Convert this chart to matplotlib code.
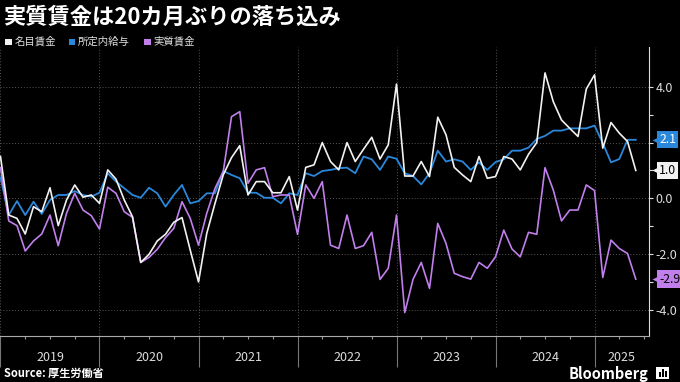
import numpy as np
import matplotlib
matplotlib.use("Agg")
import matplotlib.pyplot as plt
import matplotlib.transforms as mtransforms
from matplotlib.patches import Rectangle

plt.rcParams['font.family'] = ['Noto Sans CJK JP', 'DejaVu Sans']

# monthly y/y % change, Dec 2018 .. May 2025
nominal = [1.5, -0.6, -0.72, -1.28, -0.3, -0.48, 0.38, -0.98, -0.06, 0.48, 0.04, 0.12,
           -0.18, 1.02, 0.69, -0.06, -0.66, -2.3, -2.01, -1.53, -1.29, -0.86, -0.69, -1.86,
           -3.0, -1.26, -0.18, 0.84, 1.46, 1.89, 0.12, 0.6, 0.6, 0.2, 0.2, 0.78,
           -0.42, 1.11, 1.2, 2.0, 1.32, 1.02, 2.0, 1.32, 1.76, 2.19, 1.41, 1.92,
           4.1, 0.8, 0.8, 1.32, 0.78, 2.91, 2.28, 1.11, 0.84, 0.6, 1.5, 0.72,
           0.78, 1.5, 1.41, 1.02, 1.58, 2.0, 4.5, 3.47, 2.81, 2.51, 2.22, 3.92,
           4.43, 1.8, 2.72, 2.34, 2.04, 1.0]
scheduled = [0.75, -0.6, -0.1, -0.6, -0.12, -0.56, -0.06, 0.12, 0.12, 0.26, 0.12, 0.06,
             0.2, 0.9, 0.6, 0.36, 0.12, 0.02, 0.38, 0.18, -0.3, 0.12, 0.48, -0.18,
             -0.1, 0.18, 0.18, 0.98, 0.84, 0.72, 0.2, 0.2, 0.02, 0.02, -0.18, 0.18,
             0.12, 0.9, 0.8, 0.98, 1.02, 1.08, 1.1, 0.9, 1.5, 1.4, 1.02, 1.5,
             1.42, 0.9, 0.8, 0.5, 0.9, 1.71, 1.32, 1.4, 1.32, 1.02, 1.29, 1.02,
             1.3, 1.4, 1.71, 1.71, 1.82, 2.13, 2.24, 2.43, 2.43, 2.51, 2.51, 2.51,
             2.61, 1.98, 1.29, 1.41, 2.1, 2.1]
real = [1.1, -0.81, -0.98, -1.89, -1.53, -1.28, -0.6, -1.7, -0.54, 0.18, -0.42, -0.62,
        -1.1, 0.4, 0.18, -0.48, -0.68, -2.3, -2.12, -1.83, -1.41, -1.08, -0.12, -0.72,
        -1.68, -0.54, 0.36, 0.96, 2.93, 3.11, 0.54, 1.02, 1.1, 0.06, 0.12, 0.12,
        -1.29, 0.48, 0.0, 0.6, -1.68, -1.8, -0.6, -1.8, -1.7, -1.22, -2.91, -2.51,
        -0.6, -4.1, -2.91, -2.3, -3.23, -0.9, -1.62, -2.69, -2.81, -2.9, -2.3, -2.51,
        -2.1, -1.14, -1.82, -2.1, -1.22, -1.29, 1.1, 0.3, -0.81, -0.42, -0.42, 0.48,
        0.28, -2.84, -1.5, -1.8, -1.98, -2.9]

years = ['2019', '2020', '2021', '2022', '2023', '2024', '2025']
series_names = ['名目賃金', '所定内給与', '実質賃金']
last_labels = ['1.0', '2.1', '-2.9']
# the 2.0 label sits under the 2.1 tag in the original
ytick_labels = ['-4.0', '-2.0', '0.0', '', '4.0']

c_white = '#f2f2f2'
c_blue = '#2a88dc'
c_purple = '#c17fec'
colors = [c_white, c_blue, c_purple]

months = np.arange(len(nominal))
x_right = 78.57

fig = plt.figure(figsize=(6.8, 3.82), dpi=100, facecolor='black')
ax = fig.add_axes([0.0, 0.1204, 0.954, 0.7566], facecolor='black')

ax.plot(months, scheduled, color=c_blue, lw=1.3, zorder=3)
ax.plot(months, real, color=c_purple, lw=1.2, zorder=4)
ax.plot(months, nominal, color=c_white, lw=1.2, zorder=5)

ax.set_xlim(-0.06, x_right)
ax.set_ylim(-4.94, 5.43)

# y axis on right
ax.yaxis.tick_right()
ax.set_yticks([-4, -2, 0, 2, 4])
ax.set_yticklabels(ytick_labels)
ax.set_yticks([-3, -1, 1, 3], minor=True)
ax.tick_params(axis='y', which='both', colors='#dddddd', length=3, width=0.8,
               labelsize=9, pad=2)

# x axis: year dividers and quarterly ticks
ax.set_xticks(np.arange(0, 73, 12))
ax.set_xticklabels([])
ax.set_xticks(np.arange(0, 79, 3), minor=True)
ax.tick_params(axis='x', which='major', length=22, width=0.8, color='#777777')
ax.tick_params(axis='x', which='minor', length=2.5, width=0.8, color='#999999')

ax.grid(True, which='major', color='#555555', linestyle=(0, (1, 2)), lw=0.7)

for s in ['top', 'left']:
    ax.spines[s].set_visible(False)
ax.spines['bottom'].set_color('#aaaaaa')
ax.spines['right'].set_color('#dddddd')

# year labels
tr = mtransforms.blended_transform_factory(ax.transData, fig.transFigure)
for k, y in enumerate(years):
    xc = (12 * k + min(12 * k + 12, x_right)) / 2
    ax.text(xc, 0.065, y, transform=tr, ha='center', va='center',
            color='#dddddd', fontsize=9)

# end-of-line tags
tr_y = mtransforms.blended_transform_factory(ax.transAxes, ax.transData)
tags = [(nominal[-1], last_labels[0], c_white, 'black'),
        (scheduled[-1], last_labels[1], c_blue, 'white'),
        (real[-1], last_labels[2], c_purple, 'black')]
for val, lab, fc, tc in tags:
    ax.annotate(lab, xy=(1.0, val), xycoords=tr_y, xytext=(7.5, 0),
                textcoords='offset points', ha='left', va='center',
                color=tc, fontsize=8.8, zorder=10, annotation_clip=False,
                bbox=dict(boxstyle='square,pad=0.18', fc=fc, ec='none'))
    mk = mtransforms.offset_copy(tr_y, fig=fig, x=5.8, y=0, units='points')
    ax.plot([1.0], [val], marker='<', ms=7, color=fc, mec='none',
            transform=mk, clip_on=False, zorder=9)

# title
fig.text(0.005, 0.955, '実質賃金は20カ月ぶりの落ち込み', color='white',
         fontsize=16, fontweight='bold', ha='left', va='center')

# legend
leg_x = [0.008, 0.101, 0.212]
for lx, name, c in zip(leg_x, series_names, colors):
    fig.add_artist(Rectangle((lx, 0.882), 0.0095, 0.017, transform=fig.transFigure,
                             facecolor=c, edgecolor='none'))
    fig.text(lx + 0.013, 0.892, name, color='#e0e0e0', fontsize=7.5,
             ha='left', va='center')

# footer
fig.text(0.006, 0.022, 'Source: 厚生労働省', color='white', fontsize=8,
         fontweight='bold', ha='left', va='center')
fig.text(0.953, 0.022, 'Bloomberg', color='white', fontsize=10.5,
         fontweight='bold', ha='right', va='center')
fig.add_artist(Rectangle((0.965, 0.008), 0.019, 0.032, transform=fig.transFigure,
                         facecolor='white', edgecolor='none'))
for bx, bh in [(0.969, 0.012), (0.9735, 0.02), (0.978, 0.016)]:
    fig.add_artist(Rectangle((bx, 0.014), 0.0025, bh, transform=fig.transFigure,
                             facecolor='black', edgecolor='none'))

fig.savefig('out.png', dpi=100, facecolor='black')
